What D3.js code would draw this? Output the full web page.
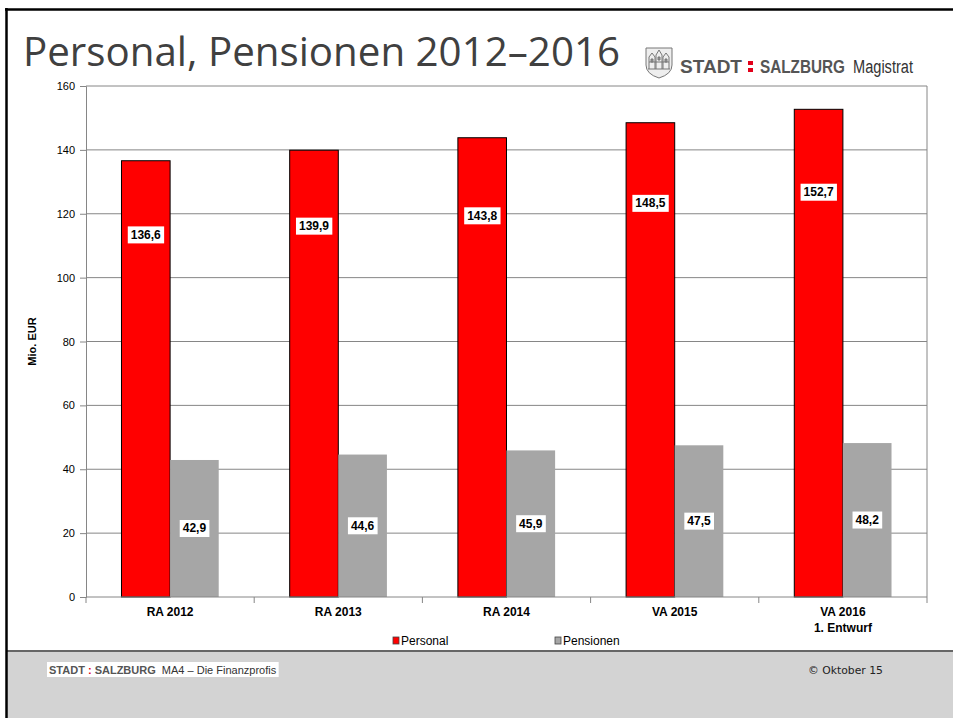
<!DOCTYPE html>
<html><head><meta charset="utf-8">
<script src="https://cdn.jsdelivr.net/npm/d3@7"></script>
<style>body{margin:0;background:#fff}svg{display:block}</style>
</head><body>
<svg id="c" width="953" height="718"></svg>
<script>
const categories = ["RA 2012", "RA 2013", "RA 2014", "VA 2015", "VA 2016\n1. Entwurf"];
const personal = [136.6, 139.9, 143.8, 148.5, 152.7];
const pensionen = [42.9, 44.6, 45.9, 47.5, 48.2];
const seriesNames = ["Personal", "Pensionen"];
const seriesColors = ["#ff0000", "#a6a6a6"];
const yTicks = [0, 20, 40, 60, 80, 100, 120, 140, 160];

(function(){
const svg = d3.select("#c");
const W = 953, H = 718;

// slide frame
svg.append("rect").attr("x",0).attr("y",0).attr("width",W).attr("height",H).attr("fill","#fff");
svg.append("rect").attr("x",6).attr("y",651).attr("width",W-6).attr("height",H-651).attr("fill","#d3d3d3");
svg.append("line").attr("x1",6).attr("x2",W).attr("y1",651).attr("y2",651).attr("stroke","#666").attr("stroke-width",2);
svg.append("line").attr("x1",5).attr("x2",W).attr("y1",9.5).attr("y2",9.5).attr("stroke","#000").attr("stroke-width",2.5);
svg.append("line").attr("x1",6.5).attr("x2",6.5).attr("y1",8).attr("y2",H).attr("stroke","#000").attr("stroke-width",2.5);

// title
svg.append("text").attr("x",23).attr("y",66).text("Personal, Pensionen 2012–2016")
  .attr("font-family","'Open Sans', 'DejaVu Sans', sans-serif").attr("font-size",40).attr("fill","#404040")
  .attr("textLength",597).attr("lengthAdjust","spacingAndGlyphs");

// logo crest
const crest = svg.append("g").attr("transform","translate(645,47)").attr("fill","none").attr("stroke","#777").attr("stroke-width",1);
crest.append("path").attr("d","M1,1 H27 V18 Q27,27 14,31 Q1,27 1,18 Z").attr("fill","#eee");
crest.append("path").attr("d","M4,22 V10 L7,6 L10,10 V22 M11,22 V8 L14,3 L17,8 V22 M18,22 V10 L21,6 L24,10 V22 M3,22 H25 M4,15 H24");
crest.append("path").attr("d","M6,12 h2 v3 h-2z M13,10 h2 v3 h-2z M20,12 h2 v3 h-2z").attr("fill","#999");
const logo = svg.append("g").attr("font-family","'Liberation Sans Narrow', 'Liberation Sans', Arial, sans-serif");
logo.append("text").attr("x",680).attr("y",73).text("STADT").attr("font-weight","bold").attr("font-size",18).attr("fill","#555")
  .attr("textLength",62).attr("lengthAdjust","spacingAndGlyphs");
logo.append("rect").attr("x",748).attr("y",61).attr("width",5).attr("height",4).attr("fill","#e2001a");
logo.append("rect").attr("x",748).attr("y",68).attr("width",5).attr("height",4).attr("fill","#e2001a");
logo.append("text").attr("x",760).attr("y",73).text("SALZBURG").attr("font-weight","bold").attr("font-size",18).attr("fill","#555")
  .attr("textLength",85).attr("lengthAdjust","spacingAndGlyphs");
logo.append("text").attr("x",853).attr("y",73).text("Magistrat").attr("font-size",18).attr("fill","#333")
  .attr("textLength",60).attr("lengthAdjust","spacingAndGlyphs");

// chart
const pL = 86, pR = 927, pT = 86, pB = 597;
const x = d3.scaleBand().domain(categories).range([pL, pR]).paddingInner(0).paddingOuter(0);
const x1 = d3.scaleBand().domain(seriesNames).range([0, x.bandwidth()]).paddingInner(0).paddingOuter(0.73);
const y = d3.scaleLinear().domain([0, 160]).range([pB, pT]);

const font = "Arial, 'Liberation Sans', sans-serif";
// gridlines
svg.append("g").selectAll("line").data(yTicks.filter(d => d > 0)).join("line")
  .attr("x1", pL).attr("x2", pR).attr("y1", d => y(d)).attr("y2", d => y(d))
  .attr("stroke", "#868686").attr("stroke-width", 1);
svg.append("line").attr("x1",pR).attr("x2",pR).attr("y1",pT).attr("y2",pB).attr("stroke","#868686");

// y axis
const yAxis = svg.append("g").attr("transform",`translate(${pL},0)`)
  .call(d3.axisLeft(y).tickValues(yTicks).tickSize(6).tickPadding(5).tickFormat(d3.format("d")));
yAxis.select(".domain").attr("stroke","#868686");
yAxis.selectAll(".tick line").attr("stroke","#868686");
yAxis.selectAll("text").attr("font-family",font).attr("font-size",11).attr("fill","#000");

svg.append("text").attr("transform",`translate(36,${(pT+pB)/2}) rotate(-90)`).attr("text-anchor","middle")
  .attr("font-family",font).attr("font-size",11).attr("font-weight","bold").text("Mio. EUR");

// bars
const data = categories.map((c, i) => ({c, vals: [personal[i], pensionen[i]]}));
const groups = svg.append("g").selectAll("g").data(data).join("g").attr("transform", d => `translate(${x(d.c)},0)`);
groups.selectAll("rect").data(d => d.vals.map((v, j) => ({v, s: seriesNames[j], j}))).join("rect")
  .attr("x", d => x1(d.s)).attr("width", x1.bandwidth())
  .attr("y", d => y(d.v)).attr("height", d => y(0) - y(d.v))
  .attr("fill", d => seriesColors[d.j])
  .attr("stroke", d => d.j === 0 ? "#000" : "none").attr("stroke-width", 1);

// x axis
const xAxis = svg.append("g").attr("transform",`translate(0,${pB})`);
xAxis.append("line").attr("x1",pL).attr("x2",pR).attr("stroke","#868686");
xAxis.selectAll("line.t").data(d3.range(categories.length + 1)).join("line").attr("class","t")
  .attr("x1", i => pL + i * x.bandwidth()).attr("x2", i => pL + i * x.bandwidth())
  .attr("y1",0).attr("y2",6).attr("stroke","#868686");
const xl = xAxis.selectAll("text").data(categories).join("text")
  .attr("x", d => x(d) + x.bandwidth()/2).attr("y", 19).attr("text-anchor","middle")
  .attr("font-family",font).attr("font-size",12).attr("font-weight","bold");
xl.each(function(d){
  const t = d3.select(this);
  d.split("\n").forEach((line, k) => t.append("tspan").attr("x", x(d) + x.bandwidth()/2).attr("dy", k ? 16 : 0).text(line));
});

// value labels
const fmt = v => v.toFixed(1).replace(".", ",");
const labelFrac = [0.83, 0.5];
groups.each(function(d){
  const g = d3.select(this);
  d.vals.forEach((v, j) => {
    const cx = x1(seriesNames[j]) + x1.bandwidth()/2;
    const cy = y(v * labelFrac[j]);
    const lg = g.append("g");
    const t = lg.append("text").attr("x", cx).attr("y", cy + 4).attr("text-anchor","middle")
      .attr("font-family",font).attr("font-size",12).attr("font-weight","bold").text(fmt(v));
    const bb = t.node().getBBox();
    lg.insert("rect","text").attr("x", bb.x - 3).attr("y", cy - 8.5).attr("width", bb.width + 6).attr("height", 17).attr("fill","#fff");
  });
});

// legend
const legendX = [393, 555];
const leg = svg.append("g").selectAll("g").data(seriesNames).join("g").attr("transform",(d,i)=>`translate(${legendX[i]},637)`);
leg.append("rect").attr("width",6).attr("height",7).attr("fill",(d,i)=>seriesColors[i]).attr("stroke","#444").attr("stroke-width",0.8);
leg.append("text").attr("x",8).attr("y",8).text(d=>d).attr("font-family",font).attr("font-size",12);

// footer
const fbox = svg.append("rect").attr("x",47).attr("y",662).attr("width",220).attr("height",15).attr("fill","#fff");
const ff = "'Liberation Sans Narrow', 'Liberation Sans', Arial, sans-serif";
const ft = svg.append("text").attr("x",49).attr("y",674).attr("font-family",ff).attr("font-size",11).attr("fill","#333")
  .attr("xml:space","preserve");
ft.append("tspan").attr("font-weight","bold").attr("fill","#555").text("STADT ");
ft.append("tspan").attr("font-weight","bold").attr("fill","#e2001a").text(":");
ft.append("tspan").attr("font-weight","bold").attr("fill","#555").text(" SALZBURG  ");
ft.append("tspan").text("MA4 – Die Finanzprofis");
fbox.attr("width", ft.node().getBBox().width + 4);
svg.append("text").attr("x",808).attr("y",674).text("© Oktober 15").attr("font-family","DejaVu Sans, Verdana, sans-serif").attr("font-size",10.5).attr("fill","#222")
  .attr("textLength",75).attr("lengthAdjust","spacingAndGlyphs");
})();
</script>
</body></html>
